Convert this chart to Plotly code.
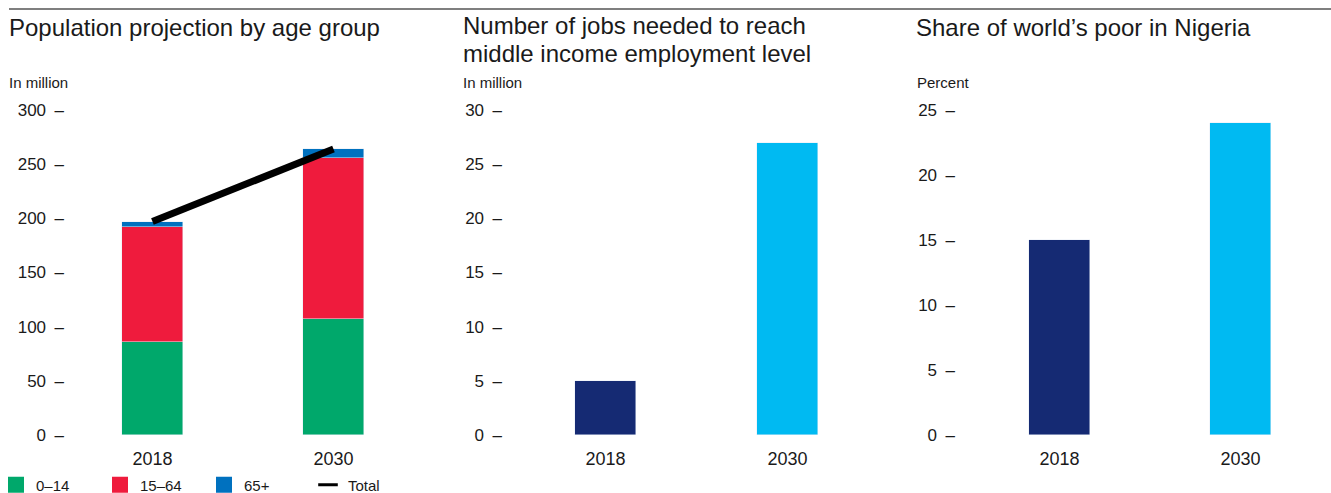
import plotly.graph_objects as go

# ---- data ----
years = ["2018", "2030"]
pop_0_14 = [86, 107]
pop_15_64 = [106, 149]
pop_65_plus = [5, 8]
pop_total = [197, 264]
jobs_needed = [5, 27]
poor_share = [15, 24]

pop_ticks = [0, 50, 100, 150, 200, 250, 300]
jobs_ticks = [0, 5, 10, 15, 20, 25, 30]
poor_ticks = [0, 5, 10, 15, 20, 25]

legend_names = ["0\u201314", "15\u201364", "65+", "Total"]
titles = ["Population projection by age group",
          "Number of jobs needed to reach",
          "middle income employment level",
          "Share of world\u2019s poor in Nigeria"]
units = ["In million", "In million", "Percent"]

# ---- style ----
W, H = 1331, 493
TOP, BOT = 110, 435
FONT = "Liberation Sans, Arial, sans-serif"
TXT = "#1a1a1a"
C_GREEN, C_RED, C_BLUE = "#00a86b", "#ef1b3d", "#0071bf"
C_NAVY, C_CYAN = "#152a73", "#00baf2"
BW = 0.337


def px_x(p):
    return p / W


def px_y(p):
    return (BOT - p) / (BOT - TOP)


fig = go.Figure()

# panel 1: stacked bars + total line
for vals, col, nm in [(pop_0_14, C_GREEN, legend_names[0]),
                      (pop_15_64, C_RED, legend_names[1]),
                      (pop_65_plus, C_BLUE, legend_names[2])]:
    fig.add_trace(go.Bar(x=years, y=vals, width=BW, marker_color=col,
                         name=nm, showlegend=False, xaxis="x", yaxis="y"))
fig.add_trace(go.Scatter(x=years, y=pop_total, mode="lines",
                         line=dict(color="black", width=7), name=legend_names[3],
                         showlegend=False, xaxis="x", yaxis="y"))

# legend entries
for name, col in zip(legend_names[:3], [C_GREEN, C_RED, C_BLUE]):
    fig.add_trace(go.Scatter(x=[None], y=[None], mode="markers", name=name,
                             marker=dict(symbol="square", size=16, color=col),
                             xaxis="x", yaxis="y"))
fig.add_trace(go.Scatter(x=[None], y=[None], mode="markers", name=legend_names[3],
                         marker=dict(symbol="line-ew", size=14,
                                     line=dict(color="black", width=3)),
                         xaxis="x", yaxis="y"))

# panel 2
fig.add_trace(go.Bar(x=years, y=jobs_needed, width=BW,
                     marker_color=[C_NAVY, C_CYAN], showlegend=False,
                     xaxis="x2", yaxis="y2"))
# panel 3
fig.add_trace(go.Bar(x=years, y=poor_share, width=BW,
                     marker_color=[C_NAVY, C_CYAN], showlegend=False,
                     xaxis="x3", yaxis="y3"))


def xax(d0, d1, r0, r1):
    return dict(domain=[px_x(d0), px_x(d1)], type="category",
                range=[r0, r1], showgrid=False, zeroline=False,
                showline=False, ticks="", fixedrange=True,
                tickfont=dict(size=18, color=TXT, family=FONT),
                ticklabelstandoff=11)


def yax(anchor, ticks, top):
    return dict(anchor=anchor, range=[0, top], tickvals=ticks,
                ticktext=[f"{t}\u2002\u2013" for t in ticks],
                showgrid=False, zeroline=False, showline=False, ticks="",
                tickfont=dict(size=17, color=TXT, family=FONT),
                fixedrange=True)


layout = dict(
    width=W, height=H,
    margin=dict(l=0, r=0, t=TOP, b=H - BOT, pad=0, autoexpand=False),
    paper_bgcolor="white", plot_bgcolor="white",
    barmode="stack", bargap=0,
    font=dict(family=FONT, color=TXT),
    xaxis=xax(65, 424, -0.483, 1.5),
    yaxis=yax("x", pop_ticks, 300),
    xaxis2=xax(503, 878, -0.563, 1.497),
    yaxis2=yax("x2", jobs_ticks, 30),
    xaxis3=xax(956, 1331, -0.572, 1.5),
    yaxis3=yax("x3", poor_ticks, 25),
    legend=dict(orientation="h", xref="container", yref="container",
                x=0, xanchor="left",
                y=(H - 485) / H, yanchor="middle",
                traceorder="normal", indentation=-4,
                font=dict(size=15, color=TXT, family=FONT),
                entrywidth=63, entrywidthmode="pixels",
                itemclick=False, itemdoubleclick=False),
    showlegend=True,
)

ann = []


def add_text(txt, x, baseline, fs):
    ann.append(dict(text=txt, xref="paper", yref="paper",
                    x=px_x(x), y=px_y(baseline - 0.3465 * fs),
                    xanchor="left", yanchor="middle", showarrow=False,
                    font=dict(size=fs, color=TXT, family=FONT)))


add_text(titles[0], 7, 36, 24)
add_text(titles[1], 461, 34, 24)
add_text(titles[2], 461, 62, 24)
add_text(titles[3], 914, 36, 24)
add_text(units[0], 7, 87.5, 15)
add_text(units[1], 461, 87.5, 15)
add_text(units[2], 915, 87.5, 15)
layout["annotations"] = ann

layout["shapes"] = [dict(type="line", xref="paper", yref="paper",
                         x0=px_x(9), x1=1, y0=px_y(9), y1=px_y(9),
                         line=dict(color="#555555", width=1.5))]

fig.update_layout(**layout)
fig.write_html(
    "out.html",
    config={"displayModeBar": False},
    post_script="document.body.style.margin='0';"
                "document.body.style.overflow='hidden';",
)
